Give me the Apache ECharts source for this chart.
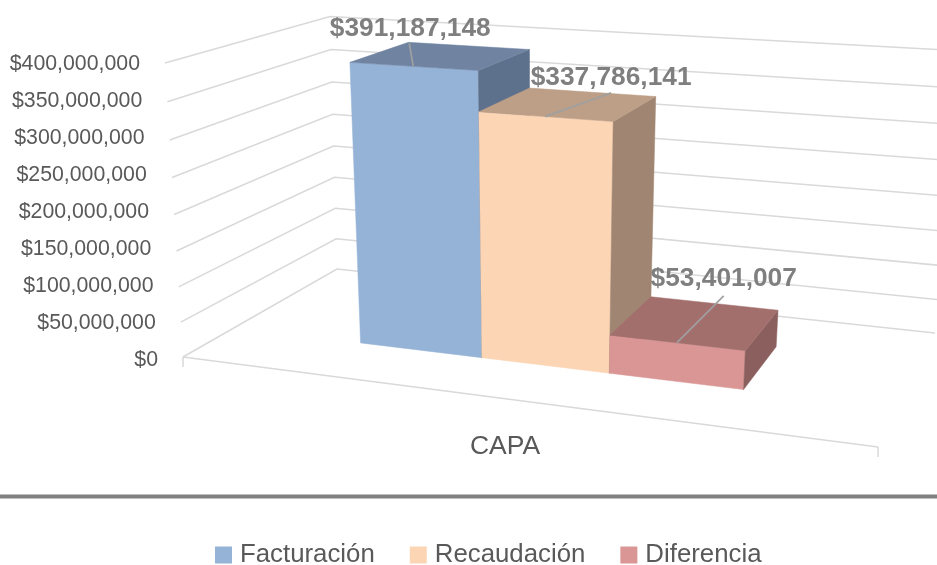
<!DOCTYPE html>
<html>
<head>
<meta charset="utf-8">
<style>html,body{margin:0;padding:0;background:#fff}#c{width:937px;height:565px}</style>
<script src="https://cdn.jsdelivr.net/npm/echarts@6/dist/echarts.min.js"></script>
</head>
<body>
<div id="c"></div>
<script>
var categories = ['CAPA'];
var yTicks = [0, 50000000, 100000000, 150000000, 200000000, 250000000, 300000000, 350000000, 400000000];
var facturacion = [391187148];
var recaudacion = [337786141];
var diferencia = [53401007];

var FONT = '"Liberation Sans", Arial, sans-serif';

// Perspective camera: (u along the floor, v into depth, t up the value axis) -> pixels
function project(u, v, t, lean) {
  var w = 1 - 0.13 * u + 0.1746 * v - 0.0594 * t;
  return [
    (580.9 * u + 212.8 * v + 183 + lean * t) / w,
    (31.9 * u - 41 * v + 357 - 297.7 * t) / w
  ];
}
var WALL_LEAN = -27.8, BAR_LEAN = -32;
function share(api, params, value) {
  var cs = params.coordSys;
  return (cs.y + cs.height - api.coord([0, value])[1]) / cs.height;
}
function money(v) { return '$' + Number(v).toLocaleString('en-US'); }

function wallItem(params, api) {
  var t = share(api, params, api.value(1));
  return {
    type: 'polyline', silent: true,
    shape: { points: [project(0, 0, t, WALL_LEAN), project(0, 1, t, WALL_LEAN), project(1, 1, t, WALL_LEAN)] },
    style: { fill: null, stroke: '#D9D9D9', lineWidth: 1.5 }
  };
}
function floorItem() {
  var a = project(0, 0, 0, 0), b = project(1, 0, 0, 0);
  return {
    type: 'group', silent: true,
    children: [
      { type: 'line', shape: { x1: a[0], y1: a[1], x2: b[0], y2: b[1] }, style: { stroke: '#D9D9D9', lineWidth: 1.5 } },
      { type: 'line', shape: { x1: a[0], y1: a[1], x2: a[0], y2: a[1] + 10 }, style: { stroke: '#D9D9D9', lineWidth: 1.5 } },
      { type: 'line', shape: { x1: b[0], y1: b[1], x2: b[0], y2: b[1] + 10 }, style: { stroke: '#D9D9D9', lineWidth: 1.5 } }
    ]
  };
}
function barRenderer(slot, front, top, side, lx, ly, ex, ey) {
  return function (params, api) {
    var value = api.value(1);
    var t = share(api, params, value);
    var u0 = 0.2113 + slot * 0.1931, u1 = u0 + 0.1931, v0 = 0.30, v1 = 0.70;
    function p(u, v, h) { return project(u, v, h, BAR_LEAN); }
    function poly(pts, fill) {
      return { type: 'polygon', shape: { points: pts }, style: { fill: fill, stroke: fill, lineWidth: 0.5 } };
    }
    var fl = p(u0, v0, t), fr = p(u1, v0, t), bl = p(u0, v1, t), br = p(u1, v1, t);
    var fr0 = p(u1, v0, 0), br0 = p(u1, v1, 0);
    var anchor = p((u0 + u1) / 2, v0, t);
    return {
      type: 'group', silent: true,
      children: [
        poly([p(u0, v0, 0), fr0, fr, fl], front),
        poly([fr0, br0, br, fr], side),
        poly([fl, fr, br, bl], top),
        { type: 'line', shape: { x1: anchor[0], y1: anchor[1], x2: anchor[0] + ex, y2: anchor[1] + ey },
          style: { stroke: '#A0A0A0', lineWidth: 1.7 } },
        { type: 'text', x: anchor[0] + lx, y: anchor[1] + ly,
          style: { text: money(value), fill: '#7F7F7F', font: 'bold 26.3px ' + FONT, textAlign: 'center', textVerticalAlign: 'middle' } }
      ]
    };
  };
}
function barSeries(name, values, color, renderItem) {
  return {
    type: 'custom', name: name, coordinateSystem: 'cartesian2d',
    data: values.map(function (v, i) { return [i, v]; }),
    encode: { x: 0, y: 1 }, itemStyle: { color: color }, renderItem: renderItem, z: 5
  };
}

var richLabels = {};
yTicks.forEach(function (v, i) {
  richLabels['t' + i] = { padding: [3.5, i * 2.25, 0, 0], color: '#595959', fontFamily: FONT, fontSize: 21.3 };
});

var chart = echarts.init(document.getElementById('c'), null, { renderer: 'canvas' });
chart.setOption({
  animation: false,
  backgroundColor: '#fff',
  grid: { left: 165, right: 92, top: 62, bottom: 207, containLabel: false },
  xAxis: {
    type: 'category', data: categories,
    axisLine: { show: false }, axisTick: { show: false }, splitLine: { show: false },
    axisLabel: { margin: 75, color: '#595959', fontFamily: FONT, fontSize: 26.5 }
  },
  yAxis: {
    type: 'value', min: 0, max: 400000000, interval: 50000000,
    axisLine: { show: false }, axisTick: { show: false }, splitLine: { show: false },
    axisLabel: {
      margin: 7,
      formatter: function (v) { return '{t' + yTicks.indexOf(v) + '|' + money(v) + '}'; },
      rich: richLabels
    }
  },
  legend: {
    data: ['Facturación', 'Recaudación', 'Diferencia'],
    left: 210, top: 537, icon: 'rect', itemWidth: 17, itemHeight: 17, itemGap: 35,
    textStyle: { color: '#595959', fontFamily: FONT, fontSize: 25.8, padding: [0, 0, 0, 3] }
  },
  graphic: [{
    type: 'rect', left: 0, top: 494.5, silent: true,
    shape: { width: 937, height: 4 }, style: { fill: '#808080' }
  }],
  series: [
    { type: 'custom', name: 'grid', coordinateSystem: 'cartesian2d',
      data: yTicks.map(function (v) { return [0, v]; }), encode: { x: 0, y: 1 }, renderItem: wallItem, z: 1 },
    { type: 'custom', name: 'floor', coordinateSystem: 'cartesian2d',
      data: [[0, 0]], encode: { x: 0, y: 1 }, renderItem: floorItem, z: 1 },
    barSeries('Facturación', facturacion, '#95B3D7', barRenderer(0, '#95B3D7', '#7084A2', '#5E718C', -3, -37.5, -4, -23)),
    barSeries('Recaudación', recaudacion, '#FCD5B5', barRenderer(1, '#FCD5B5', '#BD9F87', '#A08672', 66, -39, 66, -23.7)),
    barSeries('Diferencia', diferencia, '#D99694', barRenderer(2, '#D99694', '#A36F6D', '#8B5F5D', 47, -64, 47, -47))
  ]
});
</script>
</body>
</html>
